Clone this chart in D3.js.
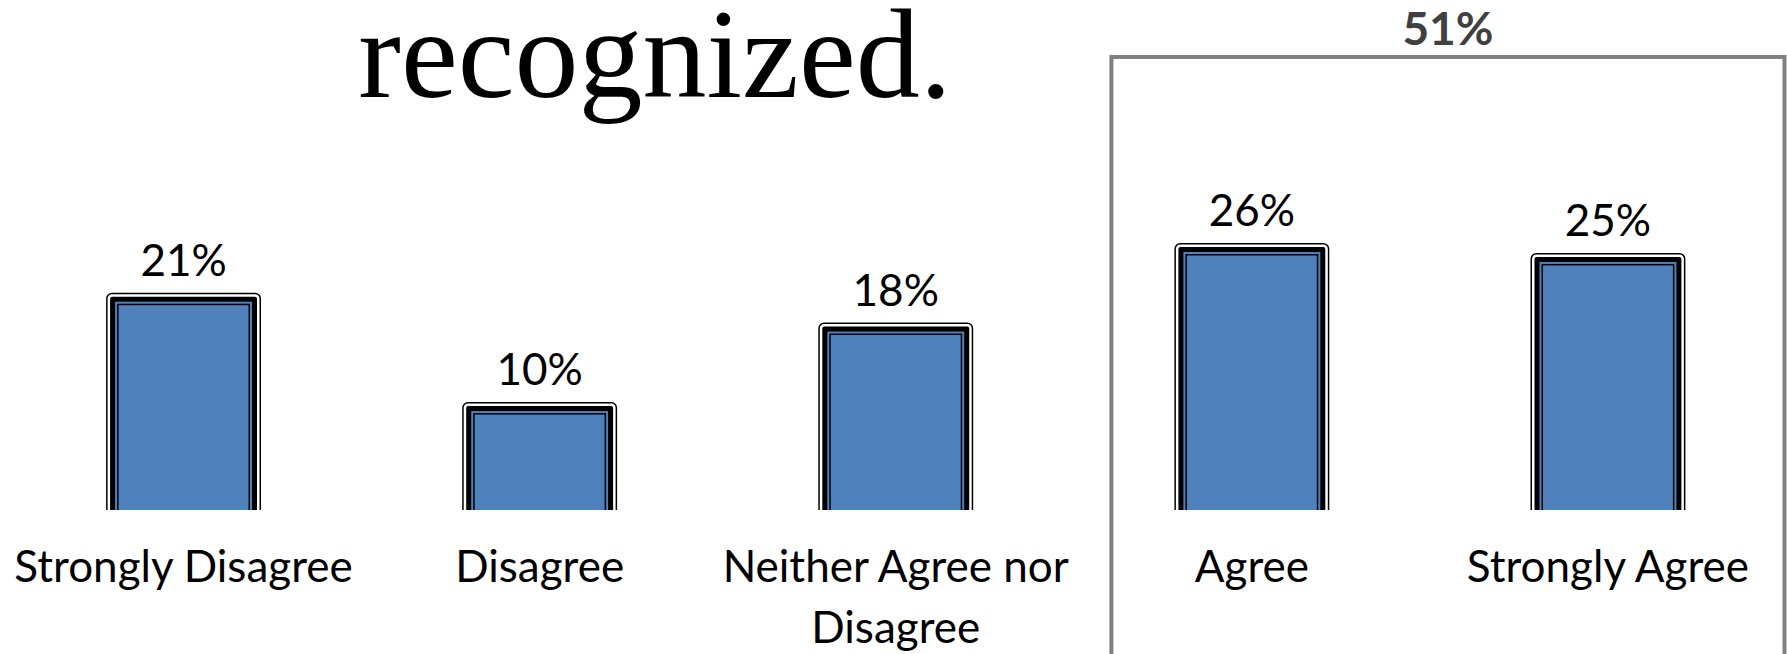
<!DOCTYPE html>
<html>
<head>
<meta charset="utf-8">
<script src="https://cdn.jsdelivr.net/npm/d3@7"></script>
<style>
  html, body { margin: 0; padding: 0; background: #ffffff; }
  svg { display: block; }
</style>
</head>
<body>
<script>
// chart data
const categories = ["Strongly Disagree", "Disagree", "Neither Agree nor Disagree", "Agree", "Strongly Agree"];
const values = [21, 10, 18, 26, 25];
const groupedCategories = ["Agree", "Strongly Agree"];
const titleText = "recognized.";

const width = 1787, height = 654;
const blue = "#4f81bd";
const labelFont = "Lato, 'Open Sans', sans-serif";

const svg = d3.select("body").append("svg")
    .attr("width", width)
    .attr("height", height);

const x = d3.scaleBand()
    .domain(categories)
    .range([5.5, 1786])
    .paddingInner(0.565)
    .paddingOuter(0.2825);

const y = d3.scaleLinear()
    .domain([0, 26])
    .range([501.5, 243]);

// plot area clip, bars run off the bottom
svg.append("defs").append("clipPath").attr("id", "plot")
    .append("rect")
    .attr("x", 0).attr("y", 0)
    .attr("width", width).attr("height", 510);

// title fragment
svg.append("text")
    .attr("x", 655)
    .attr("y", 97)
    .attr("text-anchor", "middle")
    .style("font-family", "'Liberation Serif', 'DejaVu Serif', serif")
    .style("font-size", "128px")
    .text(titleText);

// box around the agree group
const groupSum = d3.sum(categories.map((c, i) => groupedCategories.includes(c) ? values[i] : 0));
const boxLeft = x(groupedCategories[0]) - 63;
const boxRight = width - 2.5;
svg.append("rect")
    .attr("x", boxLeft)
    .attr("y", 57)
    .attr("width", boxRight - boxLeft)
    .attr("height", 700)
    .style("fill", "none")
    .style("stroke", "#808080")
    .style("stroke-width", 4);

svg.append("text")
    .attr("x", (boxLeft + boxRight) / 2)
    .attr("y", 45)
    .attr("text-anchor", "middle")
    .style("font-family", labelFont)
    .style("font-weight", "bold")
    .style("font-size", "46px")
    .style("fill", "#404040")
    .text(groupSum + "%");

// bars: layered border look
const bars = svg.append("g").attr("clip-path", "url(#plot)")
    .selectAll("g")
    .data(categories)
    .enter()
    .append("g");

const bw = x.bandwidth();
const layers = [
    {inset: 0.75, fill: "#ffffff", stroke: "#000000", sw: 1.5, rx: 5},
    {inset: 4, fill: "#000000", stroke: "none", sw: 0, rx: 2},
    {inset: 9, fill: blue, stroke: "none", sw: 0, rx: 0},
    {inset: 11.75, fill: blue, stroke: "#000000", sw: 1.5, rx: 0}
];
layers.forEach(l => {
    bars.append("rect")
        .attr("x", d => x(d) + l.inset)
        .attr("y", (d, i) => y(values[i]) + l.inset)
        .attr("width", bw - 2 * l.inset)
        .attr("height", (d, i) => 560 - y(values[i]))
        .attr("rx", l.rx)
        .style("fill", l.fill)
        .style("stroke", l.stroke)
        .style("stroke-width", l.sw);
});

// value labels
svg.append("g").selectAll("text")
    .data(categories)
    .enter()
    .append("text")
    .attr("x", d => x(d) + bw / 2)
    .attr("y", (d, i) => y(values[i]) - 17)
    .attr("text-anchor", "middle")
    .style("font-family", labelFont)
    .style("font-size", "44px")
    .text((d, i) => values[i] + "%");

// category labels, wrapped like the original
const wrapped = {"Neither Agree nor Disagree": ["Neither Agree nor", "Disagree"]};
const cat = svg.append("g").selectAll("text")
    .data(categories)
    .enter()
    .append("text")
    .attr("text-anchor", "middle")
    .style("font-family", labelFont)
    .style("font-size", "44px");
cat.each(function(d) {
    const lines = wrapped[d] || [d];
    d3.select(this).selectAll("tspan")
        .data(lines)
        .enter()
        .append("tspan")
        .attr("x", x(d) + bw / 2)
        .attr("y", (t, j) => 582 + j * 61)
        .text(t => t);
});
</script>
</body>
</html>
